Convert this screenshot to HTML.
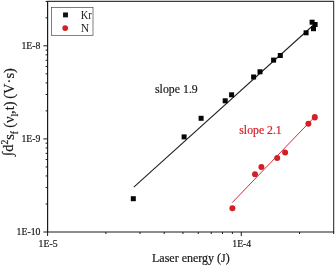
<!DOCTYPE html><html><head><meta charset="utf-8"><style>html,body{margin:0;padding:0;background:#fff}</style></head><body><svg width="335" height="266" viewBox="0 0 335 266" style="display:block">
<rect width="335" height="266" fill="#fff"/>
<path d="M47.6 1.4H333.65V232.0" fill="none" stroke="#3a3a3a" stroke-width="1.15"/>
<path d="M47.6 0.90V232.0H334.15" fill="none" stroke="#1a1a1a" stroke-width="1.2"/>
<path d="M47.60 232.0v4.0 M105.90 232.0v2.0 M140.00 232.0v2.0 M164.19 232.0v2.0 M182.96 232.0v2.0 M198.29 232.0v2.0 M211.26 232.0v2.0 M222.49 232.0v2.0 M232.39 232.0v2.0 M241.25 232.0v4.0 M299.55 232.0v2.0 M333.65 232.0v2.0 M47.6 232.00h-4.2 M47.6 203.98h-2.0 M47.6 187.58h-2.0 M47.6 175.95h-2.0 M47.6 166.93h-2.0 M47.6 159.56h-2.0 M47.6 153.33h-2.0 M47.6 147.93h-2.0 M47.6 143.17h-2.0 M47.6 138.91h-4.2 M47.6 110.88h-2.0 M47.6 94.49h-2.0 M47.6 82.86h-2.0 M47.6 73.84h-2.0 M47.6 66.47h-2.0 M47.6 60.24h-2.0 M47.6 54.84h-2.0 M47.6 50.08h-2.0 M47.6 45.82h-4.2 M47.6 17.79h-2.0 M47.6 1.40h-2.0" stroke="#1a1a1a" stroke-width="1" fill="none"/>
<text x="40.4" y="234.90" text-anchor="end" style="font-family:'Liberation Serif',serif;font-size:9.75px;fill:#1a1a1a;stroke:#1a1a1a;stroke-width:0.2">1E-10</text>
<text x="40.4" y="141.81" text-anchor="end" style="font-family:'Liberation Serif',serif;font-size:9.75px;fill:#1a1a1a;stroke:#1a1a1a;stroke-width:0.2">1E-9</text>
<text x="40.4" y="48.72" text-anchor="end" style="font-family:'Liberation Serif',serif;font-size:9.75px;fill:#1a1a1a;stroke:#1a1a1a;stroke-width:0.2">1E-8</text>
<text x="48.10" y="246.7" text-anchor="middle" style="font-family:'Liberation Serif',serif;font-size:9.75px;fill:#1a1a1a;stroke:#1a1a1a;stroke-width:0.2">1E-5</text>
<text x="241.75" y="246.7" text-anchor="middle" style="font-family:'Liberation Serif',serif;font-size:9.75px;fill:#1a1a1a;stroke:#1a1a1a;stroke-width:0.2">1E-4</text>
<text x="152" y="261.9" style="font-family:'Liberation Serif',serif;font-size:12px;fill:#1a1a1a;stroke:#1a1a1a;stroke-width:0.2">Laser energy (J)</text>
<text transform="translate(14.3,157.3) rotate(-90)" style="font-family:'Liberation Serif',serif;font-size:14.5px;fill:#1a1a1a;stroke:#1a1a1a;stroke-width:0.2"><tspan dx="1.5" dy="-2.1">∫</tspan><tspan dy="0.6">d</tspan><tspan dy="-5" font-size="9.5">2</tspan><tspan dy="6.5">s</tspan><tspan dy="3.3" font-size="9.5">f</tspan><tspan dy="-3.3" dx="-0.4"> (ν</tspan><tspan dy="3.3" font-size="9.5">l</tspan><tspan dy="-3.3" dx="-0.2">,t)</tspan><tspan dx="-0.9"> (V·s)</tspan></text>
<rect x="51.4" y="7.4" width="41.6" height="27.9" fill="#fff" stroke="#3a3a3a" stroke-width="0.65"/>
<rect x="63.05" y="12.45" width="4.9" height="4.9" fill="#111"/>
<circle cx="65.2" cy="28.1" r="2.9" fill="#d22027"/>
<text x="80.8" y="18.5" textLength="11" lengthAdjust="spacingAndGlyphs" style="font-family:'Liberation Serif',serif;font-size:11.6px;fill:#1a1a1a">Kr</text>
<text x="80.8" y="32.1" style="font-family:'Liberation Serif',serif;font-size:11.6px;fill:#1a1a1a">N</text>
<line x1="133.8" y1="187.1" x2="313.5" y2="25" stroke="#222" stroke-width="1.1"/>
<line x1="232.3" y1="202.5" x2="314.5" y2="117" stroke="#d22027" stroke-width="0.95"/>
<rect x="130.80" y="196.20" width="5" height="5" fill="#050505"/>
<rect x="181.60" y="134.40" width="5" height="5" fill="#050505"/>
<rect x="198.60" y="115.80" width="5" height="5" fill="#050505"/>
<rect x="222.70" y="98.30" width="5" height="5" fill="#050505"/>
<rect x="229.10" y="92.30" width="5" height="5" fill="#050505"/>
<rect x="251.10" y="74.50" width="5" height="5" fill="#050505"/>
<rect x="257.50" y="69.30" width="5" height="5" fill="#050505"/>
<rect x="271.10" y="57.60" width="5" height="5" fill="#050505"/>
<rect x="277.80" y="53.00" width="5" height="5" fill="#050505"/>
<rect x="303.60" y="30.30" width="5" height="5" fill="#050505"/>
<rect x="309.60" y="19.70" width="5" height="5" fill="#050505"/>
<rect x="312.60" y="22.00" width="5" height="5" fill="#050505"/>
<rect x="311.00" y="26.20" width="5" height="5" fill="#050505"/>
<circle cx="232.40" cy="208.30" r="3.0" fill="#d22027"/>
<circle cx="255.00" cy="174.20" r="3.0" fill="#d22027"/>
<circle cx="261.40" cy="167.10" r="3.0" fill="#d22027"/>
<circle cx="277.20" cy="158.10" r="3.0" fill="#d22027"/>
<circle cx="285.10" cy="152.50" r="3.0" fill="#d22027"/>
<circle cx="308.40" cy="123.70" r="3.0" fill="#d22027"/>
<ellipse cx="314.8" cy="117.3" rx="3.0" ry="3.2" fill="#d22027"/>
<text x="155" y="92.5" style="font-family:'Liberation Serif',serif;font-size:11.85px;fill:#1a1a1a;stroke:#1a1a1a;stroke-width:0.2">slope 1.9</text>
<text x="239.3" y="134.3" style="font-family:'Liberation Serif',serif;font-size:11.75px;fill:#d22027;stroke:#d22027;stroke-width:0.2">slope 2.1</text>
</svg></body></html>
